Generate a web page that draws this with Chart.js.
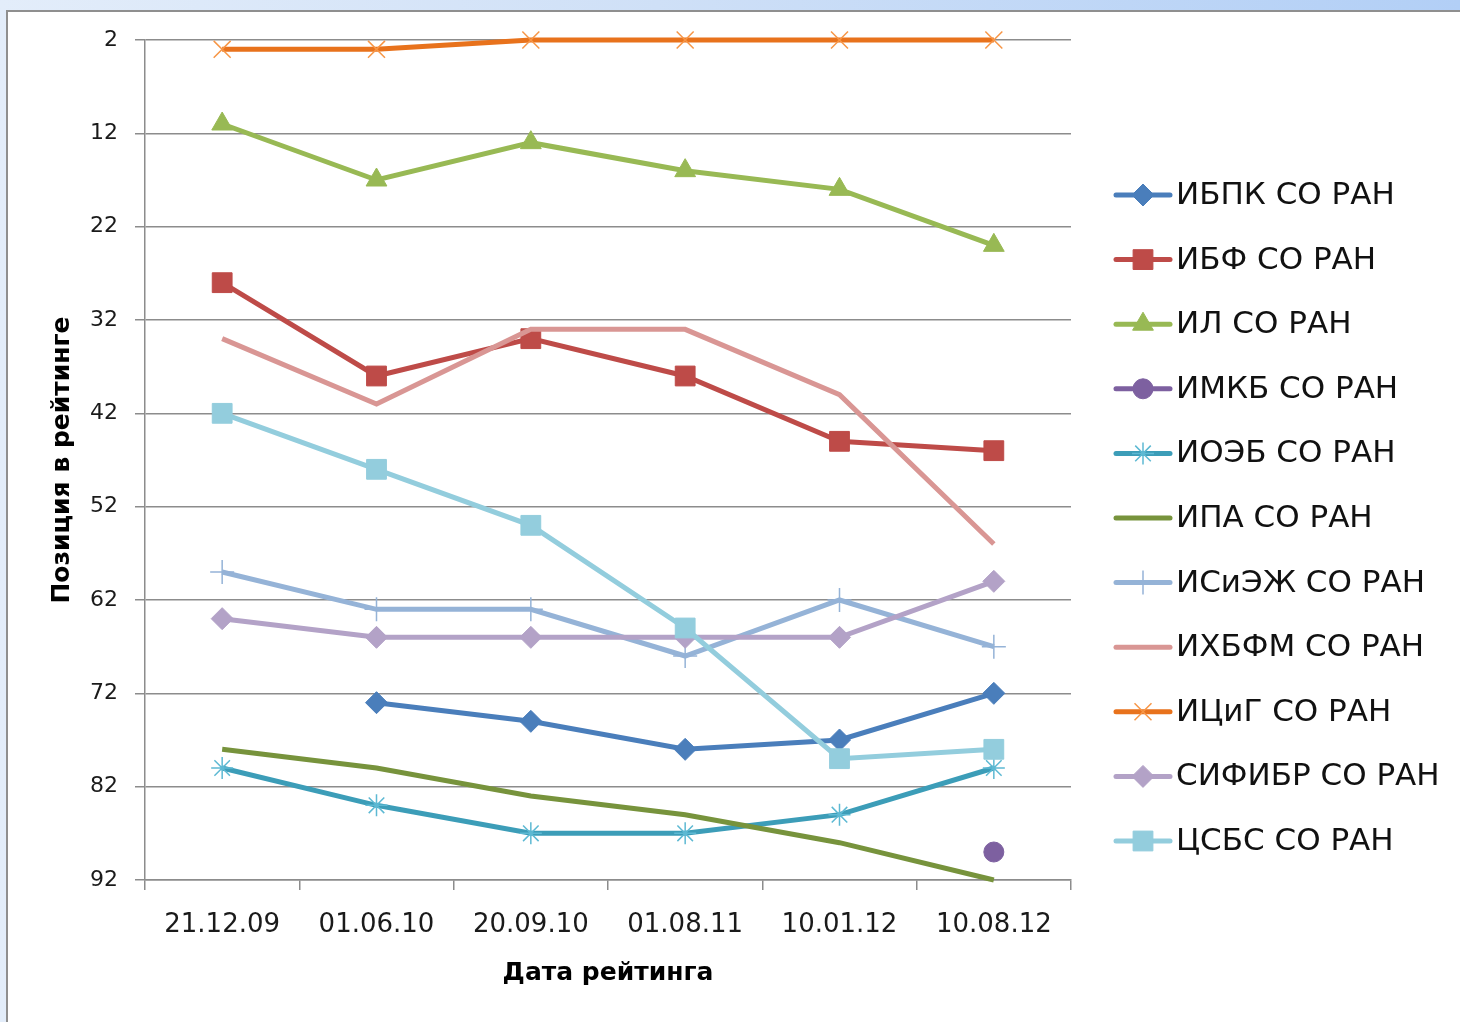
<!DOCTYPE html>
<html><head><meta charset="utf-8">
<script src="https://cdn.jsdelivr.net/npm/chart.js@4/dist/chart.umd.min.js"></script>
<style>
html,body{margin:0;padding:0;}
body{width:1460px;height:1022px;overflow:hidden;position:relative;background:linear-gradient(90deg,#e3edfa 0%,#cfe0f7 45%,#b2cff6 100%);}
#frame{position:absolute;left:6px;top:10px;width:1460px;height:1020px;background:#fff;border-left:2px solid #8f8f8f;border-top:2px solid #8f8f8f;}
#c{position:absolute;left:0;top:0;width:1460px;height:1022px;}
</style></head><body>
<div id="frame"></div>
<canvas id="c" width="1460" height="1022"></canvas>
<script>
// ---- data ----
const dates = ['21.12.09','01.06.10','20.09.10','01.08.11','10.01.12','10.08.12'];
const seriesNames = ['ИБПК СО РАН','ИБФ СО РАН','ИЛ СО РАН','ИМКБ СО РАН','ИОЭБ СО РАН','ИПА СО РАН','ИСиЭЖ СО РАН','ИХБФМ СО РАН','ИЦиГ СО РАН','СИФИБР СО РАН','ЦСБС СО РАН'];
const ibpk   = [null, 73, 75, 78, 77, 72];
const ibf    = [28, 38, 34, 38, 45, 46];
const il     = [11, 17, 13, 16, 18, 24];
const imkb   = [null, null, null, null, null, 89];
const ioeb   = [80, 84, 87, 87, 85, 80];
const ipa    = [78, 80, 83, 85, 88, 92];
const isiezh = [59, 63, 63, 68, 62, 67];
const ihbfm  = [34, 41, 33, 33, 40, 56];
const icig   = [3, 3, 2, 2, 2, 2];
const sifibr = [64, 66, 66, 66, 66, 60];
const csbs   = [42, 48, 54, 65, 79, 78];
const yMin = 2, yMax = 92, yStep = 10;

// ---- styles ----
const styles = [
  {c:'#4A7EBB', m:'#4A7EBB', ps:'rectRot', r:11, bw:1},
  {c:'#BE4B48', m:'#BE4B48', ps:'rect', r:14, bw:1},
  {c:'#98B954', m:'#98B954', ps:'triangle', r:12, bw:1},
  {c:'#7D60A0', m:'#7D60A0', ps:'circle', r:10, bw:1},
  {c:'#3C9DB8', m:'#5DB9D3', ps:'star', r:11, bw:1.5},
  {c:'#77933C', m:'#77933C', ps:'circle', r:0, bw:0},
  {c:'#95B3D7', m:'#95B3D7', ps:'cross', r:12, bw:1.5},
  {c:'#D99694', m:'#D99694', ps:'circle', r:0, bw:0},
  {c:'#E8721C', m:'#F79646', ps:'crossRot', r:12, bw:1.5},
  {c:'#B3A2C7', m:'#B3A2C7', ps:'rectRot', r:11, bw:1},
  {c:'#93CDDD', m:'#93CDDD', ps:'rect', r:14, bw:1}
];
const seriesData = [ibpk, ibf, il, imkb, ioeb, ipa, isiezh, ihbfm, icig, sifibr, csbs];

const datasets = seriesNames.map((n,i)=>({
  label:n,
  data:seriesData[i],
  borderColor:styles[i].c,
  backgroundColor:styles[i].m,
  borderWidth:5,
  pointStyle:styles[i].ps,
  pointRadius:styles[i].r,
  pointHoverRadius:styles[i].r,
  pointBackgroundColor:styles[i].m,
  pointBorderColor:styles[i].m,
  pointBorderWidth:styles[i].bw,
  tension:0,
  spanGaps:false,
  clip:false,
  order: seriesNames.length - i
}));

function fallbackPoint(ctx, ps, r, x, y){
  ctx.beginPath();
  if (ps==='rect'){ const s=r*Math.SQRT1_2; ctx.rect(x-s,y-s,2*s,2*s); ctx.fill(); }
  else if (ps==='rectRot'){ ctx.moveTo(x,y-r);ctx.lineTo(x+r,y);ctx.lineTo(x,y+r);ctx.lineTo(x-r,y);ctx.closePath();ctx.fill(); }
  else if (ps==='triangle'){ ctx.moveTo(x,y-r);ctx.lineTo(x+r*0.87,y+r*0.5);ctx.lineTo(x-r*0.87,y+r*0.5);ctx.closePath();ctx.fill(); }
  else if (ps==='circle'){ ctx.arc(x,y,r,0,Math.PI*2);ctx.fill(); }
  else if (ps==='cross'){ ctx.moveTo(x,y-r);ctx.lineTo(x,y+r);ctx.moveTo(x-r,y);ctx.lineTo(x+r,y); }
  else if (ps==='crossRot'){ const s=r*0.7;ctx.moveTo(x-s,y-s);ctx.lineTo(x+s,y+s);ctx.moveTo(x+s,y-s);ctx.lineTo(x-s,y+s); }
  else if (ps==='star'){ const s=r*0.7;ctx.moveTo(x,y-r);ctx.lineTo(x,y+r);ctx.moveTo(x-r,y);ctx.lineTo(x+r,y);ctx.moveTo(x-s,y-s);ctx.lineTo(x+s,y+s);ctx.moveTo(x+s,y-s);ctx.lineTo(x-s,y+s); }
  ctx.stroke();
}

const sideLegend = {
  id:'sideLegend',
  afterDraw(chart){
    const ctx = chart.ctx;
    const top = 195, step = 64.6;
    ctx.save();
    chart.data.datasets.forEach((ds,i)=>{
      const y = top + i*step;
      ctx.strokeStyle = ds.borderColor; ctx.lineWidth = 5; ctx.lineCap = 'round';
      ctx.beginPath(); ctx.moveTo(1116,y); ctx.lineTo(1170,y); ctx.stroke();
      ctx.lineCap = 'butt';
      if (ds.pointRadius > 0){
        ctx.fillStyle = ds.pointBackgroundColor; ctx.strokeStyle = ds.pointBorderColor; ctx.lineWidth = ds.pointBorderWidth;
        if (Chart.helpers && Chart.helpers.drawPoint){
          Chart.helpers.drawPoint(ctx,{pointStyle:ds.pointStyle,radius:ds.pointRadius,rotation:0,borderWidth:ds.pointBorderWidth},1143,y);
        } else {
          fallbackPoint(ctx, ds.pointStyle, ds.pointRadius, 1143, y);
        }
      }
      ctx.fillStyle = '#111'; ctx.font = '31px "DejaVu Sans"'; ctx.textBaseline = 'middle'; ctx.textAlign = 'left';
      ctx.fillText(ds.label, 1176, y+1);
    });
    ctx.restore();
  }
};

const gridColor = '#8c8c8c';
new Chart(document.getElementById('c'), {
  type:'line',
  data:{labels:dates, datasets:datasets},
  plugins:[sideLegend],
  options:{
    responsive:false,
    animation:false,
    events:[],
    layout:{padding:{left:0,top:40,right:389,bottom:0}},
    plugins:{legend:{display:false},tooltip:{enabled:false}},
    scales:{
      x:{
        type:'category',
        offset:true,
        grid:{display:true,drawOnChartArea:false,drawTicks:true,tickLength:10,offset:true,color:gridColor,lineWidth:1.5},
        border:{display:true,color:gridColor,width:1.5},
        ticks:{font:{family:'DejaVu Sans',size:26},color:'#1a1a1a',padding:20,maxRotation:0,autoSkip:false},
        title:{display:true,text:'Дата рейтинга',font:{family:'DejaVu Sans',size:25,weight:'bold'},color:'#000',padding:{top:0,bottom:34}},
        afterFit(s){ s.height = 142; }
      },
      y:{
        type:'linear',
        reverse:true,
        min:yMin, max:yMax,
        grid:{color:gridColor,lineWidth:1.5,tickLength:10,drawTicks:true},
        border:{display:true,color:gridColor,width:1.5},
        ticks:{stepSize:yStep,font:{family:'DejaVu Sans',size:22},color:'#1a1a1a',padding:17},
        title:{display:true,text:'Позиция в рейтинге',font:{family:'DejaVu Sans',size:25,weight:'bold'},color:'#000',padding:{top:47,bottom:0}},
        afterFit(s){ s.width = 145; }
      }
    }
  }
});
</script>
</body></html>
